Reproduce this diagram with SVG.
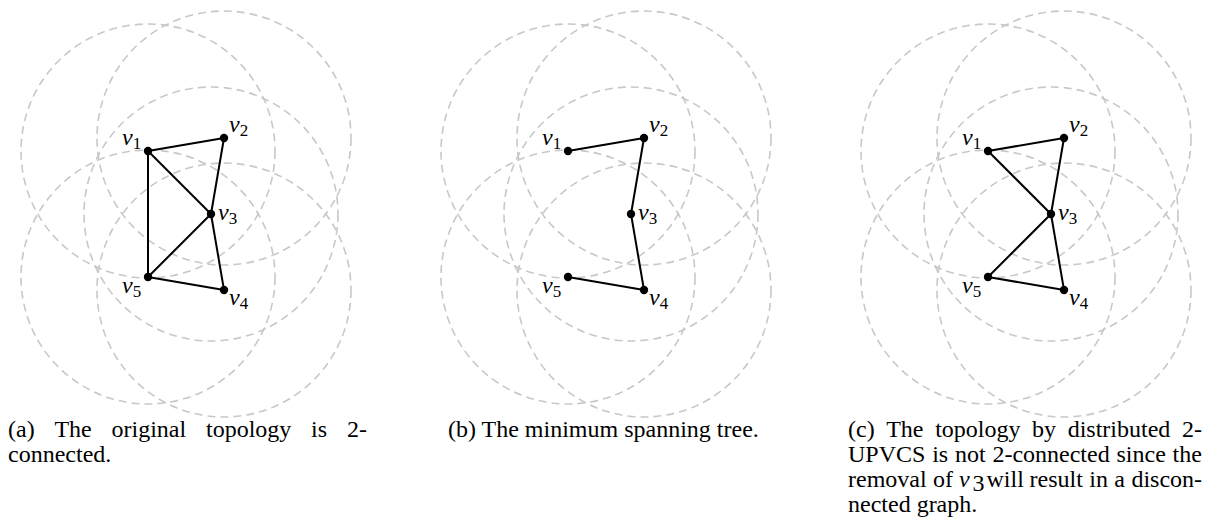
<svg xmlns="http://www.w3.org/2000/svg" width="1208" height="522" viewBox="0 0 1208 522">
<style>
.ring{fill:none;stroke:#c8c8c8;stroke-width:1.6;stroke-dasharray:8 5}
.edge{stroke:#000;stroke-width:2;fill:none}
.dot{fill:#000}
.lbl{font-family:"Liberation Serif",serif;font-style:italic;font-size:24px;fill:#000}
.sub{font-style:normal;font-size:17px}
.cap{font-family:"Liberation Serif",serif;font-size:24px;fill:#000}
</style>
<defs>
<g id="rings">
<circle class="ring" cx="148" cy="151" r="127"/>
<circle class="ring" cx="224" cy="138" r="127"/>
<circle class="ring" cx="211" cy="214" r="127"/>
<circle class="ring" cx="224" cy="290" r="127"/>
<circle class="ring" cx="148" cy="277" r="127"/>
</g>
</defs>

<!-- Panel (a) -->
<g id="panel-a">
<use href="#rings"/>
<g id="a-edges">
<line class="edge" x1="148" y1="151" x2="224" y2="138"/>
<line class="edge" x1="148" y1="151" x2="211" y2="214"/>
<line class="edge" x1="148" y1="151" x2="148" y2="277"/>
<line class="edge" x1="224" y1="138" x2="211" y2="214"/>
<line class="edge" x1="211" y1="214" x2="224" y2="290"/>
<line class="edge" x1="211" y1="214" x2="148" y2="277"/>
<line class="edge" x1="148" y1="277" x2="224" y2="290"/>
</g>
<g id="a-v1"><circle class="dot" cx="148" cy="151" r="4.2"/><text class="lbl" x="122" y="145">v<tspan class="sub" dy="4">1</tspan></text></g>
<g id="a-v2"><circle class="dot" cx="224" cy="138" r="4.2"/><text class="lbl" x="229" y="132">v<tspan class="sub" dy="4">2</tspan></text></g>
<g id="a-v3"><circle class="dot" cx="211" cy="214" r="4.2"/><text class="lbl" x="218" y="220">v<tspan class="sub" dy="4">3</tspan></text></g>
<g id="a-v4"><circle class="dot" cx="224" cy="290" r="4.2"/><text class="lbl" x="229" y="305">v<tspan class="sub" dy="4">4</tspan></text></g>
<g id="a-v5"><circle class="dot" cx="148" cy="277" r="4.2"/><text class="lbl" x="122" y="293">v<tspan class="sub" dy="4">5</tspan></text></g>
<text class="cap" y="437"><tspan x="8">(a)</tspan><tspan x="54.4">The</tspan><tspan x="111.5">original</tspan><tspan x="206">topology</tspan><tspan x="311.1">is</tspan><tspan x="346.9">2-</tspan></text>
<text class="cap" x="8" y="462">connected.</text>
</g>

<!-- Panel (b) -->
<g id="panel-b" transform="translate(420,0)">
<use href="#rings"/>
<g id="b-edges">
<line class="edge" x1="148" y1="151" x2="224" y2="138"/>
<line class="edge" x1="224" y1="138" x2="211" y2="214"/>
<line class="edge" x1="211" y1="214" x2="224" y2="290"/>
<line class="edge" x1="148" y1="277" x2="224" y2="290"/>
</g>
<g id="b-v1"><circle class="dot" cx="148" cy="151" r="4.2"/><text class="lbl" x="122" y="145">v<tspan class="sub" dy="4">1</tspan></text></g>
<g id="b-v2"><circle class="dot" cx="224" cy="138" r="4.2"/><text class="lbl" x="229" y="132">v<tspan class="sub" dy="4">2</tspan></text></g>
<g id="b-v3"><circle class="dot" cx="211" cy="214" r="4.2"/><text class="lbl" x="218" y="220">v<tspan class="sub" dy="4">3</tspan></text></g>
<g id="b-v4"><circle class="dot" cx="224" cy="290" r="4.2"/><text class="lbl" x="229" y="305">v<tspan class="sub" dy="4">4</tspan></text></g>
<g id="b-v5"><circle class="dot" cx="148" cy="277" r="4.2"/><text class="lbl" x="122" y="293">v<tspan class="sub" dy="4">5</tspan></text></g>
<text class="cap" x="28" y="437">(b) The minimum spanning tree.</text>
</g>

<!-- Panel (c) -->
<g id="panel-c" transform="translate(840,0)">
<use href="#rings"/>
<g id="c-edges">
<line class="edge" x1="148" y1="151" x2="224" y2="138"/>
<line class="edge" x1="148" y1="151" x2="211" y2="214"/>
<line class="edge" x1="224" y1="138" x2="211" y2="214"/>
<line class="edge" x1="211" y1="214" x2="224" y2="290"/>
<line class="edge" x1="211" y1="214" x2="148" y2="277"/>
<line class="edge" x1="148" y1="277" x2="224" y2="290"/>
</g>
<g id="c-v1"><circle class="dot" cx="148" cy="151" r="4.2"/><text class="lbl" x="122" y="145">v<tspan class="sub" dy="4">1</tspan></text></g>
<g id="c-v2"><circle class="dot" cx="224" cy="138" r="4.2"/><text class="lbl" x="229" y="132">v<tspan class="sub" dy="4">2</tspan></text></g>
<g id="c-v3"><circle class="dot" cx="211" cy="214" r="4.2"/><text class="lbl" x="218" y="220">v<tspan class="sub" dy="4">3</tspan></text></g>
<g id="c-v4"><circle class="dot" cx="224" cy="290" r="4.2"/><text class="lbl" x="229" y="305">v<tspan class="sub" dy="4">4</tspan></text></g>
<g id="c-v5"><circle class="dot" cx="148" cy="277" r="4.2"/><text class="lbl" x="122" y="293">v<tspan class="sub" dy="4">5</tspan></text></g>
</g>
<g id="caption-c">
<text class="cap" y="437"><tspan x="848">(c)</tspan><tspan x="886.2">The</tspan><tspan x="935.2">topology</tspan><tspan x="1032.1">by</tspan><tspan x="1067.7">distributed</tspan><tspan x="1182">2-</tspan></text>
<text class="cap" y="462"><tspan x="848">UPVCS</tspan><tspan x="932.2">is</tspan><tspan x="955">not</tspan><tspan x="992.4">2-connected</tspan><tspan x="1116.5">since</tspan><tspan x="1172.6">the</tspan></text>
<text class="cap" y="487"><tspan x="848">removal</tspan><tspan x="933">of</tspan></text>
<text class="lbl" x="959" y="487">v</text>
<text class="cap" x="972.5" y="491" font-size="16px">3</text>
<text class="cap" y="487"><tspan x="986.5">will</tspan><tspan x="1029.5">result</tspan><tspan x="1089.3">in</tspan><tspan x="1114.3">a</tspan><tspan x="1131.4">discon-</tspan></text>
<text class="cap" x="848" y="512">nected graph.</text>
</g>
</svg>
